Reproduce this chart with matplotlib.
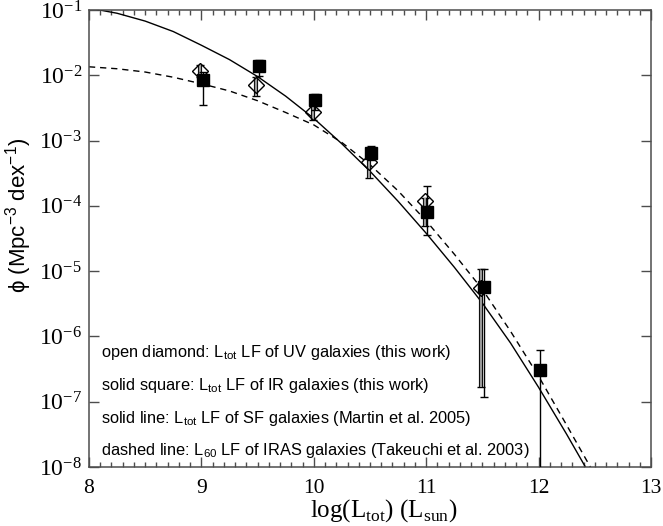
import numpy as np
import matplotlib
matplotlib.use("Agg")
from matplotlib import pyplot as plt
from matplotlib.ticker import FixedLocator, MultipleLocator, NullLocator, LogFormatterSciNotation

# luminosity functions
# open diamonds: L_tot LF of UV galaxies
lum_uv = [8.99, 9.49, 9.99, 10.49, 10.99, 11.49]
phi_uv = [1.16e-2, 7.1e-3, 2.77e-3, 4.65e-4, 1.2e-4, 5.5e-6]
phi_uv_lo = [9.4e-3, 4.8e-3, 2.07e-3, 2.7e-4, 4.9e-5, 1.7e-7]
phi_uv_hi = [1.44e-2, 9.4e-3, 3.6e-3, 5.6e-4, 1.32e-4, 1.08e-5]

# solid squares: L_tot LF of IR galaxies
lum_ir = [9.01, 9.51, 10.01, 10.51, 11.01, 11.51, 12.01]
phi_ir = [8.4e-3, 1.37e-2, 4.19e-3, 6.5e-4, 8.1e-5, 5.7e-6, 3.1e-7]
phi_ir_lo = [3.5e-3, 9.8e-3, 2.9e-3, 5.0e-4, 3.6e-5, 1.2e-7, 1e-9]
phi_ir_hi = [1.12e-2, 1.71e-2, 5.1e-3, 8.3e-4, 2.04e-4, 1.08e-5, 6.2e-7]

# model curves (log10 phi), sampled every 0.25 dex
lum_curve = [8.0, 8.25, 8.5, 8.75, 9.0, 9.25, 9.5, 9.75, 10.0, 10.25,
             10.5, 10.75, 11.0, 11.25, 11.5, 11.75, 12.0, 12.25, 12.5]
logphi_martin = [-0.97, -1.05, -1.17, -1.33, -1.54, -1.76, -2.02, -2.32, -2.66, -3.05,
                 -3.47, -3.93, -4.42, -4.94, -5.49, -6.10, -6.78, -7.50, -8.25]
logphi_takeuchi = [-1.87, -1.90, -1.95, -2.03, -2.13, -2.24, -2.39, -2.57, -2.76, -3.03,
                   -3.37, -3.77, -4.23, -4.74, -5.28, -5.92, -6.61, -7.36, -8.12]

notes = [
    r"open diamond: L$_{\mathdefault{tot}}$ LF of UV galaxies (this work)",
    r"solid square: L$_{\mathdefault{tot}}$ LF of IR galaxies (this work)",
    r"solid line: L$_{\mathdefault{tot}}$ LF of SF galaxies (Martin et al. 2005)",
    r"dashed line: L$_{\mathdefault{60}}$ LF of IRAS galaxies (Takeuchi et al. 2003)",
]

serif = ["Liberation Serif", "DejaVu Serif"]
sans = ["Liberation Sans", "DejaVu Sans"]
frame_color = "0.3"

fig = plt.figure(figsize=(6.63, 5.26), dpi=100)
ax = fig.add_axes([0.1342, 0.1122, 0.8477, 0.8688])

# curves
ax.plot(lum_curve, 10 ** np.array(logphi_martin), color="black", lw=1.0)
ax.plot(lum_curve, 10 ** np.array(logphi_takeuchi), color="black", lw=1.0,
        dashes=(4.5, 3.5))

# error bars: grey bars with black outline for the UV points
uv = np.array(phi_uv)
uv_err = [uv - np.array(phi_uv_lo), np.array(phi_uv_hi) - uv]
ax.errorbar(lum_uv, uv, yerr=uv_err, fmt="none", ecolor="black", elinewidth=3.0,
            capsize=3, capthick=1.0, zorder=3)
ax.errorbar(lum_uv, uv, yerr=uv_err, fmt="none", ecolor="0.6", elinewidth=1.6,
            capsize=0, zorder=3.1)

ir = np.array(phi_ir)
ir_err = [ir - np.array(phi_ir_lo), np.array(phi_ir_hi) - ir]
ax.errorbar(lum_ir, ir, yerr=ir_err, fmt="none", ecolor="black", elinewidth=1.0,
            capsize=3, capthick=1.0, zorder=3.2)

# markers
ax.plot(lum_uv, uv, ls="none", marker="D", ms=8.5, mfc="none", mec="black",
        mew=1.0, zorder=4)
ax.plot(lum_ir, ir, ls="none", marker="s", ms=8.5, mfc="black", mec="black",
        zorder=5)

ax.set_xlim(8, 13)
ax.set_yscale("log")
ax.set_ylim(1e-8, 1e-1)

ax.xaxis.set_major_locator(MultipleLocator(1))
ax.xaxis.set_minor_locator(MultipleLocator(0.1))
ax.yaxis.set_major_locator(FixedLocator([10.0 ** k for k in range(-8, 0)]))
ax.yaxis.set_minor_locator(NullLocator())
ax.yaxis.set_major_formatter(LogFormatterSciNotation())

ax.tick_params(which="both", direction="in", top=True, right=True,
               color=frame_color, width=1.0)
ax.tick_params(which="major", length=7)
ax.tick_params(which="minor", length=3.5)
ax.tick_params(axis="x", pad=9, labelsize=15.5)
ax.tick_params(axis="y", pad=5, labelsize=17)
for lab in ax.get_xticklabels() + ax.get_yticklabels():
    lab.set_family(serif)

for sp in ax.spines.values():
    sp.set_color(frame_color)
    sp.set_linewidth(1.1)

ax.set_xlabel(r"log(L$_{\mathdefault{tot}}$) (L$_{\mathdefault{sun}}$)",
              family=serif, fontsize=18, va="top")
ax.xaxis.set_label_coords(0.525, -0.066)
ax.set_ylabel(r"ϕ (Mpc$^{\mathdefault{-3}}$ dex$^{\mathdefault{-1}}$)",
              family=sans, fontsize=16)
ax.yaxis.set_label_coords(-0.097, 0.55)

for i, t in enumerate(notes):
    ax.text(0.021, 0.2495 - i * 0.0715, t, transform=ax.transAxes, family=sans,
            fontsize=11.8, va="center", ha="left")

fig.savefig("out.png", dpi=100)
